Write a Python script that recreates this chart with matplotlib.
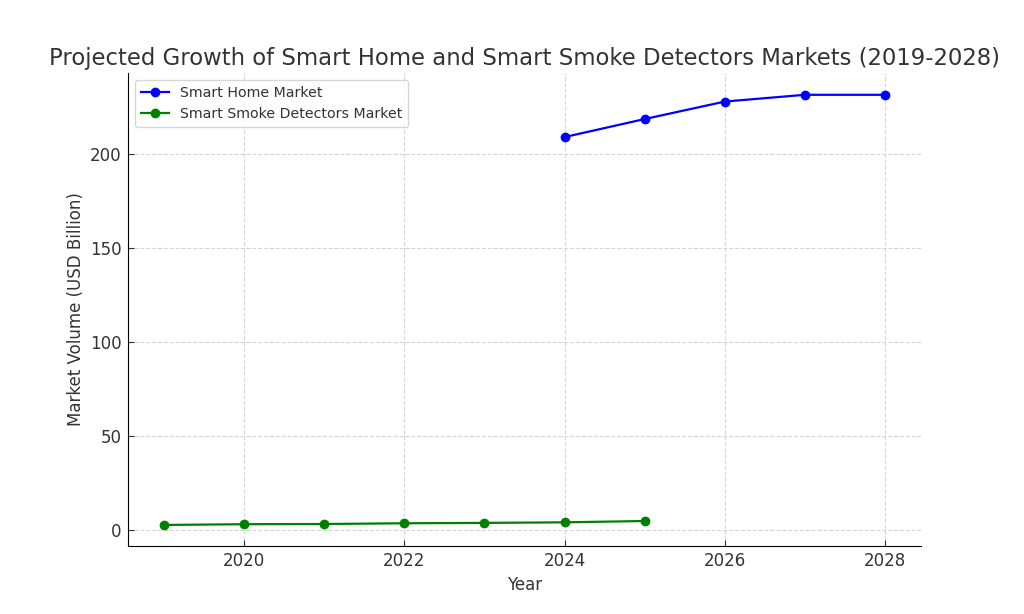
import matplotlib
matplotlib.use("Agg")
import matplotlib.pyplot as plt

home_years = [2024, 2025, 2026, 2027, 2028]
home_values = [208.9, 218.5, 227.8, 231.4, 231.4]

smoke_years = [2019, 2020, 2021, 2022, 2023, 2024, 2025]
smoke_values = [2.5, 2.9, 3.0, 3.4, 3.6, 3.9, 4.6]

TEXT = "#333333"
plt.rcParams["text.color"] = TEXT
plt.rcParams["axes.labelcolor"] = TEXT
plt.rcParams["xtick.color"] = TEXT
plt.rcParams["ytick.color"] = TEXT

fig = plt.figure(figsize=(10.24, 6.14), dpi=100)
ax = fig.add_axes([128 / 1024, 1 - 546 / 614, (921 - 128) / 1024, (546 - 73) / 614])

ax.plot(home_years, home_values, "o-", color="blue", label="Smart Home Market",
        linewidth=1.6, markersize=6)
ax.plot(smoke_years, smoke_values, "o-", color="green", label="Smart Smoke Detectors Market",
        linewidth=1.6, markersize=6)

ax.set_title("Projected Growth of Smart Home and Smart Smoke Detectors Markets (2019-2028)",
             fontsize=16.4, pad=6)
ax.set_xlabel("Year", fontsize=12)
ax.set_ylabel("Market Volume (USD Billion)", fontsize=12)
ax.set_xticks([2020, 2022, 2024, 2026, 2028])
ax.set_yticks([0, 50, 100, 150, 200])
ax.tick_params(labelsize=12, direction="in", length=4, pad=4.5)
ax.set_xlim(2018.55, 2028.45)
ax.set_ylim(-8.7, 243)
ax.grid(True, linestyle="--", color="#d5d5d5", linewidth=0.8)
for s in ["top", "right"]:
    ax.spines[s].set_visible(False)
ax.legend(loc="upper left", fontsize=10.2)

fig.savefig("out.png", dpi=100)
